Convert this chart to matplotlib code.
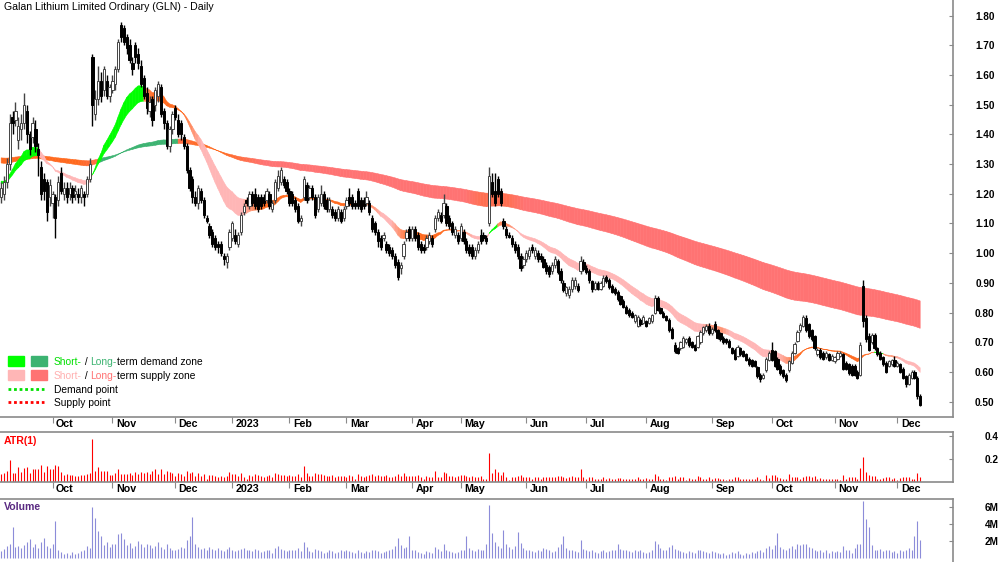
import numpy as np
import pandas as pd
import matplotlib
matplotlib.use('Agg')
import matplotlib.pyplot as plt
from matplotlib.collections import PolyCollection
from matplotlib.transforms import blended_transform_factory
from matplotlib.colors import to_rgb

plt.rcParams['font.family'] = ['Liberation Sans', 'DejaVu Sans']

title = 'Galan Lithium Limited Ordinary (GLN) - Daily'

# ASX trading days shown on the chart
asx_holidays = ['2022-09-22', '2022-12-26', '2022-12-27', '2023-01-02', '2023-01-26',
                '2023-04-07', '2023-04-10', '2023-04-25', '2023-06-12']
dates = pd.bdate_range('2022-09-05', '2023-12-12')
dates = dates[~dates.isin(pd.to_datetime(asx_holidays))]

# daily prices, one line per month (Sep 2022 .. Dec 2023)
opens = [
    1.19, 1.20, 1.24, 1.30, 1.46, 1.45, 1.38, 1.42, 1.44, 1.48, 1.40, 1.39, 1.42, 1.35, 1.29, 1.25, 1.24, 1.19, 1.17,
    1.19, 1.18, 1.27, 1.20, 1.22, 1.20, 1.22, 1.20, 1.20, 1.19, 1.20, 1.20, 1.25, 1.66, 1.47, 1.52, 1.58, 1.55, 1.58, 1.53, 1.55,
    1.57, 1.62, 1.77, 1.76, 1.73, 1.70, 1.64, 1.70, 1.67, 1.63, 1.59, 1.54, 1.48, 1.52, 1.50, 1.53, 1.56, 1.48, 1.44, 1.36, 1.42, 1.49,
    1.45, 1.44, 1.39, 1.36, 1.28, 1.25, 1.19, 1.17, 1.21, 1.18, 1.12, 1.09, 1.07, 1.05, 1.03, 1.03, 0.99, 0.97, 1.02, 1.05,
    1.06, 1.03, 1.07, 1.14, 1.18, 1.16, 1.20, 1.20, 1.19, 1.19, 1.19, 1.18, 1.20, 1.15, 1.18, 1.22, 1.24, 1.25, 1.24, 1.21,
    1.20, 1.18, 1.16, 1.11, 1.19, 1.23, 1.19, 1.22, 1.19, 1.15, 1.17, 1.20, 1.18, 1.15, 1.15, 1.14, 1.12, 1.14, 1.12, 1.16,
    1.19, 1.19, 1.17, 1.21, 1.18, 1.18, 1.17, 1.17, 1.12, 1.10, 1.07, 1.05, 1.05, 1.03, 1.02, 1.01, 0.99, 0.97, 0.95, 0.99, 1.05, 1.08, 1.05,
    1.08, 1.06, 1.03, 1.02, 1.02, 1.04, 1.05, 1.08, 1.12, 1.13, 1.13, 1.16, 1.12, 1.10, 1.06, 1.06, 1.05,
    1.07, 1.04, 1.02, 1.02, 0.99, 1.01, 1.06, 1.06, 1.05, 1.10, 1.24, 1.21, 1.25, 1.21, 1.11, 1.08, 1.06, 1.05, 1.03, 1.02, 0.99, 0.96, 0.98,
    0.99, 1.02, 0.99, 1.00, 0.99, 0.98, 0.96, 0.955, 0.94, 0.96, 0.975, 0.94, 0.90, 0.865, 0.86, 0.88, 0.89, 0.89, 0.94, 0.97, 0.95,
    0.94, 0.905, 0.88, 0.90, 0.88, 0.89, 0.92, 0.91, 0.89, 0.88, 0.87, 0.855, 0.84, 0.82, 0.81, 0.80, 0.77, 0.755, 0.775, 0.765, 0.77,
    0.765, 0.77, 0.80, 0.85, 0.815, 0.80, 0.787, 0.775, 0.745, 0.69, 0.68, 0.68, 0.685, 0.70, 0.715, 0.70, 0.69, 0.685, 0.70, 0.73, 0.74, 0.755, 0.73,
    0.76, 0.74, 0.73, 0.715, 0.71, 0.705, 0.68, 0.675, 0.655, 0.68, 0.67, 0.66, 0.645, 0.64, 0.635, 0.615, 0.59, 0.58, 0.605, 0.64, 0.675,
    0.67, 0.645, 0.62, 0.605, 0.59, 0.605, 0.63, 0.665, 0.705, 0.74, 0.755, 0.78, 0.76, 0.74, 0.72, 0.66, 0.675, 0.665, 0.65, 0.66, 0.64, 0.635,
    0.645, 0.655, 0.66, 0.63, 0.625, 0.62, 0.62, 0.60, 0.59, 0.89, 0.78, 0.72, 0.70, 0.725, 0.68, 0.665, 0.65, 0.63, 0.62, 0.625, 0.64, 0.62,
    0.625, 0.61, 0.585, 0.56, 0.58, 0.60, 0.58, 0.52,
]
highs = [
    1.24, 1.26, 1.32, 1.47, 1.48, 1.51, 1.46, 1.47, 1.54, 1.50, 1.41, 1.46, 1.45, 1.37, 1.31, 1.27, 1.25, 1.25, 1.21,
    1.20, 1.26, 1.29, 1.24, 1.24, 1.24, 1.23, 1.23, 1.22, 1.23, 1.21, 1.26, 1.32, 1.67, 1.55, 1.63, 1.61, 1.63, 1.60, 1.57, 1.60,
    1.63, 1.72, 1.78, 1.77, 1.74, 1.72, 1.66, 1.71, 1.69, 1.65, 1.60, 1.56, 1.53, 1.53, 1.56, 1.58, 1.57, 1.49, 1.45, 1.43, 1.48, 1.50,
    1.47, 1.45, 1.40, 1.37, 1.29, 1.26, 1.21, 1.23, 1.22, 1.19, 1.13, 1.10, 1.08, 1.06, 1.04, 1.04, 1.00, 1.00, 1.08, 1.11,
    1.08, 1.07, 1.14, 1.17, 1.19, 1.21, 1.21, 1.22, 1.20, 1.20, 1.20, 1.22, 1.21, 1.18, 1.25, 1.28, 1.29, 1.26, 1.25, 1.22,
    1.21, 1.19, 1.17, 1.13, 1.26, 1.24, 1.23, 1.23, 1.20, 1.20, 1.23, 1.21, 1.19, 1.19, 1.16, 1.15, 1.16, 1.15, 1.16, 1.19,
    1.22, 1.20, 1.18, 1.22, 1.19, 1.19, 1.21, 1.18, 1.13, 1.11, 1.08, 1.06, 1.07, 1.04, 1.03, 1.02, 1.00, 0.98, 0.97, 1.04, 1.08, 1.09, 1.09,
    1.09, 1.07, 1.04, 1.03, 1.06, 1.07, 1.06, 1.13, 1.15, 1.14, 1.20, 1.17, 1.13, 1.11, 1.09, 1.07, 1.10,
    1.08, 1.05, 1.03, 1.03, 1.02, 1.04, 1.08, 1.07, 1.06, 1.29, 1.27, 1.27, 1.26, 1.22, 1.12, 1.09, 1.07, 1.06, 1.04, 1.03, 1.00, 0.99, 1.01,
    1.02, 1.03, 1.02, 1.01, 1.00, 0.99, 0.97, 0.96, 0.97, 0.99, 0.98, 0.95, 0.91, 0.89, 0.89, 0.92, 0.92, 0.90, 0.99, 0.98, 0.96,
    0.945, 0.91, 0.905, 0.905, 0.905, 0.925, 0.925, 0.915, 0.895, 0.885, 0.875, 0.86, 0.845, 0.825, 0.815, 0.805, 0.795, 0.79, 0.78, 0.79, 0.775,
    0.785, 0.795, 0.86, 0.855, 0.82, 0.805, 0.79, 0.78, 0.75, 0.70, 0.685, 0.705, 0.72, 0.715, 0.72, 0.705, 0.695, 0.725, 0.74, 0.755, 0.76, 0.765, 0.75,
    0.77, 0.745, 0.735, 0.72, 0.715, 0.71, 0.685, 0.68, 0.69, 0.685, 0.675, 0.665, 0.65, 0.645, 0.64, 0.62, 0.595, 0.595, 0.65, 0.67, 0.70,
    0.675, 0.65, 0.625, 0.61, 0.595, 0.64, 0.67, 0.70, 0.74, 0.765, 0.79, 0.79, 0.765, 0.745, 0.725, 0.68, 0.68, 0.67, 0.67, 0.665, 0.66, 0.655,
    0.67, 0.67, 0.665, 0.635, 0.63, 0.625, 0.625, 0.605, 0.70, 0.91, 0.79, 0.73, 0.73, 0.73, 0.685, 0.67, 0.655, 0.635, 0.64, 0.645, 0.652, 0.635,
    0.63, 0.615, 0.59, 0.595, 0.605, 0.605, 0.585, 0.525,
]
lows = [
    1.17, 1.18, 1.22, 1.28, 1.40, 1.43, 1.35, 1.38, 1.42, 1.37, 1.33, 1.37, 1.34, 1.26, 1.18, 1.18, 1.11, 1.16, 1.12,
    1.05, 1.16, 1.20, 1.18, 1.17, 1.18, 1.17, 1.18, 1.17, 1.17, 1.16, 1.19, 1.24, 1.43, 1.45, 1.50, 1.51, 1.53, 1.52, 1.51, 1.54,
    1.55, 1.61, 1.71, 1.70, 1.67, 1.64, 1.60, 1.64, 1.62, 1.56, 1.52, 1.47, 1.46, 1.43, 1.48, 1.51, 1.46, 1.42, 1.35, 1.34, 1.40, 1.45,
    1.39, 1.38, 1.35, 1.27, 1.21, 1.17, 1.16, 1.15, 1.17, 1.12, 1.10, 1.05, 1.02, 1.01, 1.00, 0.99, 0.96, 0.95, 1.01, 1.04,
    1.03, 1.02, 1.06, 1.13, 1.16, 1.15, 1.16, 1.15, 1.14, 1.15, 1.16, 1.17, 1.15, 1.14, 1.17, 1.21, 1.23, 1.22, 1.20, 1.16,
    1.16, 1.14, 1.10, 1.09, 1.18, 1.17, 1.18, 1.18, 1.12, 1.14, 1.16, 1.15, 1.14, 1.14, 1.12, 1.11, 1.11, 1.10, 1.11, 1.15,
    1.16, 1.15, 1.15, 1.15, 1.14, 1.15, 1.16, 1.13, 1.07, 1.06, 1.02, 1.01, 1.04, 1.00, 0.99, 0.98, 0.95, 0.91, 0.93, 0.98, 1.04, 1.04, 1.04,
    1.04, 1.01, 1.00, 1.00, 1.01, 1.03, 1.02, 1.07, 1.11, 1.10, 1.12, 1.09, 1.08, 1.06, 1.05, 1.03, 1.04,
    1.03, 1.00, 0.99, 0.98, 0.98, 1.00, 1.03, 1.04, 1.03, 1.09, 1.19, 1.16, 1.19, 1.16, 1.08, 1.05, 1.05, 1.02, 1.00, 0.98, 0.94, 0.95, 0.97,
    0.98, 1.00, 0.98, 0.97, 0.97, 0.95, 0.93, 0.92, 0.93, 0.95, 0.93, 0.90, 0.87, 0.855, 0.85, 0.87, 0.88, 0.87, 0.93, 0.94, 0.93,
    0.90, 0.87, 0.875, 0.875, 0.875, 0.885, 0.90, 0.88, 0.865, 0.86, 0.84, 0.825, 0.815, 0.795, 0.785, 0.78, 0.765, 0.75, 0.755, 0.76, 0.75,
    0.76, 0.765, 0.795, 0.805, 0.795, 0.78, 0.77, 0.735, 0.71, 0.665, 0.66, 0.675, 0.68, 0.695, 0.685, 0.68, 0.67, 0.68, 0.695, 0.725, 0.735, 0.725, 0.725,
    0.735, 0.71, 0.705, 0.695, 0.695, 0.68, 0.66, 0.64, 0.65, 0.655, 0.65, 0.635, 0.62, 0.615, 0.615, 0.58, 0.565, 0.575, 0.60, 0.635, 0.635,
    0.615, 0.605, 0.59, 0.58, 0.565, 0.60, 0.625, 0.66, 0.70, 0.735, 0.75, 0.735, 0.715, 0.705, 0.675, 0.655, 0.645, 0.64, 0.645, 0.635, 0.635, 0.63,
    0.64, 0.65, 0.605, 0.605, 0.59, 0.585, 0.585, 0.575, 0.585, 0.75, 0.70, 0.67, 0.695, 0.675, 0.655, 0.64, 0.62, 0.595, 0.615, 0.62, 0.615, 0.615,
    0.595, 0.575, 0.55, 0.555, 0.575, 0.575, 0.51, 0.485,
]
closes = [
    1.22, 1.24, 1.30, 1.44, 1.44, 1.48, 1.43, 1.44, 1.50, 1.40, 1.35, 1.44, 1.36, 1.33, 1.20, 1.21, 1.14, 1.23, 1.20,
    1.12, 1.24, 1.21, 1.22, 1.19, 1.22, 1.19, 1.21, 1.19, 1.22, 1.19, 1.25, 1.30, 1.50, 1.52, 1.58, 1.53, 1.62, 1.53, 1.56, 1.58,
    1.62, 1.71, 1.73, 1.71, 1.69, 1.65, 1.62, 1.66, 1.64, 1.57, 1.53, 1.49, 1.51, 1.45, 1.55, 1.57, 1.47, 1.44, 1.36, 1.42, 1.47, 1.46,
    1.40, 1.40, 1.36, 1.28, 1.22, 1.19, 1.17, 1.22, 1.18, 1.13, 1.11, 1.06, 1.03, 1.02, 1.02, 1.00, 0.98, 0.99, 1.07, 1.10,
    1.04, 1.06, 1.13, 1.16, 1.17, 1.20, 1.17, 1.16, 1.15, 1.16, 1.17, 1.21, 1.16, 1.17, 1.24, 1.26, 1.28, 1.23, 1.21, 1.17,
    1.17, 1.15, 1.11, 1.12, 1.25, 1.18, 1.22, 1.19, 1.13, 1.19, 1.20, 1.16, 1.15, 1.18, 1.13, 1.12, 1.15, 1.11, 1.15, 1.18,
    1.17, 1.16, 1.16, 1.16, 1.15, 1.16, 1.19, 1.14, 1.08, 1.07, 1.04, 1.02, 1.06, 1.01, 1.00, 0.99, 0.96, 0.92, 0.96, 1.03, 1.07, 1.05, 1.08,
    1.05, 1.02, 1.01, 1.01, 1.05, 1.06, 1.03, 1.12, 1.14, 1.11, 1.17, 1.10, 1.09, 1.07, 1.08, 1.04, 1.09,
    1.04, 1.01, 1.00, 0.99, 1.01, 1.03, 1.04, 1.05, 1.04, 1.26, 1.20, 1.17, 1.20, 1.17, 1.09, 1.06, 1.055, 1.03, 1.01, 0.99, 0.95, 0.98, 1.00,
    1.01, 1.01, 1.01, 0.98, 0.98, 0.955, 0.94, 0.93, 0.96, 0.98, 0.935, 0.91, 0.875, 0.885, 0.88, 0.91, 0.91, 0.875, 0.975, 0.945, 0.935,
    0.91, 0.88, 0.90, 0.88, 0.90, 0.915, 0.905, 0.885, 0.87, 0.865, 0.845, 0.83, 0.82, 0.80, 0.79, 0.785, 0.79, 0.785, 0.76, 0.785, 0.755,
    0.78, 0.79, 0.848, 0.81, 0.80, 0.786, 0.775, 0.74, 0.713, 0.67, 0.665, 0.70, 0.715, 0.71, 0.69, 0.685, 0.675, 0.72, 0.735, 0.75, 0.753, 0.73, 0.745,
    0.74, 0.715, 0.71, 0.70, 0.70, 0.685, 0.665, 0.645, 0.685, 0.66, 0.655, 0.64, 0.625, 0.62, 0.62, 0.585, 0.575, 0.59, 0.645, 0.665, 0.64,
    0.62, 0.61, 0.595, 0.585, 0.573, 0.635, 0.665, 0.695, 0.735, 0.757, 0.785, 0.74, 0.72, 0.71, 0.68, 0.675, 0.65, 0.645, 0.665, 0.64, 0.655, 0.65,
    0.665, 0.665, 0.61, 0.61, 0.595, 0.59, 0.59, 0.58, 0.69, 0.77, 0.71, 0.675, 0.725, 0.68, 0.66, 0.645, 0.625, 0.60, 0.635, 0.64, 0.62, 0.63,
    0.60, 0.58, 0.56, 0.59, 0.60, 0.58, 0.52, 0.49,
]
# volume in millions of shares
volume_m = [
    0.8, 1.1, 1.4, 1.6, 3.6, 1.3, 1.4, 1.2, 1.5, 1.9, 2.2, 1.3, 1.6, 1.2, 1.9, 2.3, 1.4, 1.2, 1.6,
    4.4, 1.0, 0.7, 0.5, 0.6, 0.4, 0.7, 0.5, 0.6, 0.8, 1.0, 1.4, 1.2, 6.0, 4.7, 3.2, 2.6, 1.5, 1.9, 1.3, 1.6,
    1.7, 2.8, 2.9, 2.2, 1.5, 1.8, 1.2, 1.4, 2.0, 1.6, 1.3, 1.7, 1.5, 1.2, 1.4, 1.9, 1.3, 1.1, 1.6, 1.2, 1.0, 0.9,
    1.1, 1.3, 1.2, 2.1, 2.6, 4.8, 1.6, 1.3, 1.1, 1.2, 1.0, 1.3, 1.1, 0.9, 1.2, 1.0, 0.8, 1.1, 1.3, 0.9,
    0.8, 0.9, 1.1, 1.2, 0.9, 1.0, 0.8, 1.1, 0.9, 0.7, 0.8, 1.0, 0.9, 0.6, 1.2, 1.4, 1.1, 0.9, 0.8, 1.0,
    0.9, 1.0, 1.2, 0.8, 1.9, 1.3, 0.8, 0.7, 1.1, 0.9, 0.8, 0.6, 0.7, 0.9, 0.8, 0.6, 0.7, 0.9, 0.8, 1.0,
    0.8, 0.7, 0.6, 0.9, 0.7, 0.6, 0.8, 0.7, 1.0, 0.9, 0.8, 0.6, 0.7, 0.8, 0.9, 1.1, 1.4, 2.4, 1.5, 1.2, 1.3, 2.6, 1.0,
    0.9, 0.7, 0.6, 0.5, 0.8, 0.7, 0.6, 1.3, 1.1, 0.8, 1.6, 1.0, 0.8, 0.7, 0.6, 0.7, 0.9,
    1.0, 2.6, 1.2, 0.9, 0.8, 1.1, 1.0, 0.9, 1.6, 6.2, 2.9, 1.9, 1.4, 1.2, 3.3, 1.6, 1.3, 1.1, 1.4, 3.0, 1.8, 1.2, 1.0,
    0.9, 0.8, 0.7, 1.0, 0.8, 1.2, 1.1, 0.9, 0.7, 0.8, 1.3, 1.6, 2.6, 1.2, 1.0, 0.9, 0.8, 0.7, 2.1, 1.1, 0.9,
    0.8, 1.0, 0.7, 0.6, 0.8, 0.9, 0.7, 0.8, 1.0, 0.9, 1.6, 1.1, 0.9, 1.0, 0.8, 0.7, 0.9, 0.8, 1.0, 0.7, 0.6,
    0.7, 0.9, 2.0, 1.7, 1.2, 0.9, 1.0, 1.3, 1.5, 1.1, 0.9, 0.8, 0.7, 0.6, 0.8, 0.7, 0.6, 0.9, 1.0, 0.8, 0.7, 0.6, 0.8,
    0.7, 0.6, 0.5, 0.6, 0.4, 0.5, 0.7, 0.6, 0.8, 0.5, 0.4, 0.6, 0.5, 0.7, 0.6, 0.8, 1.0, 0.7, 1.2, 1.4, 1.1,
    1.5, 2.9, 1.3, 1.1, 1.0, 1.2, 1.4, 1.1, 1.6, 1.5, 1.7, 1.6, 1.3, 1.2, 0.9, 0.8, 1.0, 0.7, 0.9, 0.6, 0.8, 0.7,
    0.8, 0.7, 1.4, 1.0, 0.9, 0.6, 1.2, 1.7, 1.6, 6.7, 4.6, 3.6, 1.5, 1.0, 0.9, 1.1, 0.8, 0.9, 1.0, 0.7, 0.8, 0.6,
    1.0, 0.8, 0.9, 1.2, 1.0, 2.6, 4.4, 2.1,
]

# value of each moving average on the first bar (history before the chart)
short_seed = (1.245, 1.235)   # EMA20, EMA30
long_seed = (1.305, 1.322)    # EMA140, EMA220

# zone state of each ribbon: D demand, S supply, O supply being tested by price
short_zones = [(0, 12, 'D'), (13, 31, 'S'), (32, 49, 'D'), (50, 66, 'O'), (67, 87, 'S'),
               (88, 129, 'O'), (130, 139, 'S'), (140, 161, 'O'), (162, 170, 'S'), (171, 173, 'D'),
               (174, 177, 'O'), (178, 248, 'S'), (249, 251, 'O'), (252, 275, 'S'), (276, 305, 'O'),
               (306, 308, 'D'), (309, 311, 'O'), (312, 322, 'S')]
long_zones = [(0, 33, 'O'), (34, 61, 'D'), (62, 84, 'O'), (85, 169, 'S'), (170, 175, 'O'), (176, 322, 'S')]

n = min(len(opens), len(highs), len(lows), len(closes), len(volume_m))
o = np.array(opens[:n]); h = np.array(highs[:n]); l = np.array(lows[:n]); c = np.array(closes[:n])
vol = np.array(volume_m[:n])
x = np.arange(n)


def ema(values, period, seed):
    out = np.empty(len(values))
    prev = seed
    a = 2.0 / (period + 1)
    for k, v in enumerate(values):
        prev = prev + a * (v - prev)
        out[k] = prev
    return out


ORANGE = np.array(to_rgb('#FF6A1F'))


def draw_band(ax, a, b, zones, dem_col, sup_col, smooth):
    state = np.full(n, 'S')
    for s, e, z in zones:
        state[s:e + 1] = z
    w = (state == 'O').astype(float)
    w = np.convolve(np.pad(w, smooth // 2, mode='edge'), np.ones(smooth) / smooth, mode='valid')
    dem = np.array(to_rgb(dem_col)); sup = np.array(to_rgb(sup_col))
    verts, cols = [], []
    for i in range(n - 1):
        verts.append([(i, a[i]), (i + 1, a[i + 1]), (i + 1, b[i + 1]), (i, b[i])])
        if state[i] == 'D':
            cols.append(dem)
        else:
            cols.append((1 - w[i]) * sup + w[i] * ORANGE)
    ax.add_collection(PolyCollection(verts, facecolors=cols, edgecolors=cols, linewidths=0.4, zorder=1))


fig = plt.figure(figsize=(10, 5.62), dpi=100)
W, H = 1000.0, 562.0
ax = fig.add_axes([0, 1 - 417 / H, 953 / W, 417 / H])
ax_atr = fig.add_axes([0, 1 - 482 / H, 953 / W, 50 / H])
ax_vol = fig.add_axes([0, 0, 953 / W, 63 / H])

grey = '#8a8a8a'
xmin, xmax = -0.4, 333.5

# ribbons
sf = ema(c, 20, short_seed[0]); ss = ema(c, 30, short_seed[1])
lf = ema(c, 140, long_seed[0]); ls = ema(c, 220, long_seed[1])
draw_band(ax, lf, ls, long_zones, '#3CB371', '#FF7373', 15)
draw_band(ax, sf, ss, short_zones, '#00FF00', '#FFB6B6', 7)

# candles
up = c >= o
edge = np.where(up, '#444444', 'black').tolist()
ax.vlines(x, l, h, colors=edge, linewidth=1.0, zorder=3)
ax.bar(x, np.maximum(np.abs(c - o), 0.004), bottom=np.minimum(o, c), width=0.78,
       color=np.where(up, 'white', 'black').tolist(), edgecolor=edge, linewidth=0.7, zorder=4)

ax.set_xlim(xmin, xmax)
ax.set_ylim(0.448, 1.853)
price_ticks = np.round(np.arange(0.5, 1.81, 0.1), 2)
ax.yaxis.tick_right()
ax.set_yticks(price_ticks)
ax.set_yticklabels(['%.2f' % t for t in price_ticks], ha='right', fontweight='bold', fontsize=7.2)

# ATR(1) = true range of each bar
prev_c = np.concatenate([[c[0]], c[:-1]])
tr = np.maximum(h, prev_c) - np.minimum(l, prev_c)
tr[0] = h[0] - l[0]
ax_atr.vlines(x, 0, tr, colors='#FF0000', linewidth=0.8)
ax_atr.set_xlim(xmin, xmax)
ax_atr.set_ylim(0, 0.435)
ax_atr.yaxis.tick_right()
ax_atr.set_yticks([0.2, 0.4])
ax_atr.set_yticklabels(['0.2', '0.4'], ha='right', fontweight='bold', fontsize=7.2)
ax_atr.text(0.004, 0.82, 'ATR(1)', transform=ax_atr.transAxes, color='#FF0000',
            fontweight='bold', fontsize=7.6, va='center')

# volume
ax_vol.vlines(x, 0, vol, colors='#8C8CD9', linewidth=0.8)
ax_vol.set_xlim(xmin, xmax)
ax_vol.set_ylim(-0.47, 6.94)
ax_vol.yaxis.tick_right()
ax_vol.set_yticks([2, 4, 6])
ax_vol.set_yticklabels(['2M', '4M', '6M'], ha='right', fontweight='bold', fontsize=7.2)
ax_vol.text(0.004, 0.87, 'Volume', transform=ax_vol.transAxes, color='#5A2A82',
            fontweight='bold', fontsize=7.6, va='center')

# month ticks and labels
dts = dates[:n]
month_idx = [k for k in range(1, len(dts)) if dts[k].month != dts[k - 1].month]
month_lab = ['2023' if dts[k].month == 1 else dts[k].strftime('%b') for k in month_idx]
tick_pos = [k - 1.0 for k in month_idx]

for a_ in (ax, ax_atr, ax_vol):
    for side in ('left', 'top', 'bottom', 'right'):
        a_.spines[side].set_visible(False)
    a_.spines['right'].set_visible(True)
    a_.spines['right'].set_color(grey)
    a_.spines['right'].set_linewidth(1.2)
    a_.tick_params(axis='y', direction='in', length=3, color=grey)
    a_.set_xticks(tick_pos)
    a_.set_xticklabels([])
    a_.tick_params(axis='x', direction='out', length=4, color=grey)
    a_.patch.set_alpha(0)

ax.tick_params(axis='y', pad=30)
ax_atr.tick_params(axis='y', pad=33)
ax_vol.tick_params(axis='y', pad=33)
ax_vol.tick_params(axis='x', length=0)

ax.spines['bottom'].set_visible(True)
ax_atr.spines['bottom'].set_visible(True)
ax_atr.spines['top'].set_visible(True)
ax_vol.spines['top'].set_visible(True)
for sp in (ax.spines['bottom'], ax_atr.spines['bottom'], ax_atr.spines['top'], ax_vol.spines['top']):
    sp.set_color(grey)
    sp.set_linewidth(1.2)

for a_ in (ax, ax_atr):
    tr_ = blended_transform_factory(a_.transData, a_.transAxes)
    dy = -2.0 / (a_.get_position().height * H)
    for k, lab in zip(tick_pos, month_lab):
        a_.text(k + 1.2, dy, lab, transform=tr_, ha='left', va='top',
                fontweight='bold', fontsize=7.7)

# title
fig.text(4 / W, 1 - 7 / H, title, fontsize=7.6, va='center', ha='left')

# legend
renderer = fig.canvas.get_renderer()


def line_text(x_px, y_px, parts):
    xf = x_px / W
    for s, col in parts:
        t = fig.text(xf, 1 - y_px / H, s, color=col, fontsize=7.4, va='baseline', ha='left')
        xf = t.get_window_extent(renderer).x1 / W


for x0, col in ((8, '#00FF00'), (31, '#3CB371')):
    fig.patches.append(plt.Rectangle((x0 / W, 1 - 366 / H), 16 / W, 10 / H,
                                     transform=fig.transFigure, color=col, zorder=5))
for x0, col in ((8, '#FFB6B6'), (31, '#FF7373')):
    fig.patches.append(plt.Rectangle((x0 / W, 1 - 380 / H), 16 / W, 10 / H,
                                     transform=fig.transFigure, color=col, zorder=5))
line_text(54, 365, [('Short-', '#00E000'), (' / ', 'black'), ('Long-', '#3CB371'),
                    ('term demand zone', 'black')])
line_text(54, 379, [('Short-', '#FFB0B0'), (' / ', 'black'), ('Long-', '#FF7373'),
                    ('term supply zone', 'black')])
fig.lines.append(plt.Line2D([8 / W, 44 / W], [1 - 389 / H] * 2, transform=fig.transFigure,
                            color='#00E000', linewidth=2, linestyle=(0, (1, 1))))
fig.lines.append(plt.Line2D([8 / W, 44 / W], [1 - 402 / H] * 2, transform=fig.transFigure,
                            color='#FF0000', linewidth=2, linestyle=(0, (1, 1))))
line_text(54, 393, [('Demand point', 'black')])
line_text(54, 406, [('Supply point', 'black')])

fig.savefig('out.png', dpi=100, facecolor='white')
